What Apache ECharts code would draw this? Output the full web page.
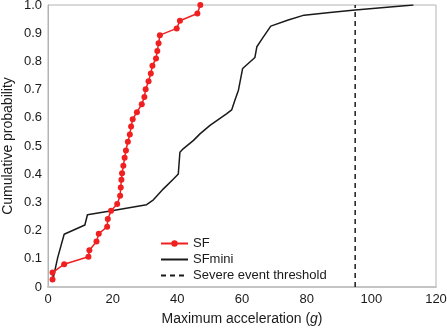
<!DOCTYPE html>
<html>
<head>
<meta charset="utf-8">
<script src="https://cdn.jsdelivr.net/npm/echarts@6/dist/echarts.min.js"></script>
<style>
  html, body { margin: 0; padding: 0; background: #fff; }
  #chart { width: 447px; height: 330px; }
</style>
</head>
<body>
<div id="chart"></div>
<script>
// SF: maximum acceleration (g) per event, sorted, with cumulative probability
const sfAccel = [1.4, 1.4, 5, 12.5, 12.8, 15, 15.7, 18.3, 18.5, 19.5, 21.4, 22.3, 22.5, 22.7, 22.9, 23.3, 23.7, 24.1,
  24.7, 25.3, 25.7, 26.2, 27.5, 29, 29.8, 30.2, 31.1, 31.8, 32.3, 33.4, 33.8, 34.2, 34.6, 39.8, 40.8, 46.2, 47.1];
const sfProb = [0.027, 0.051, 0.081, 0.107, 0.13, 0.161, 0.189, 0.214, 0.241, 0.27, 0.294, 0.324, 0.353, 0.38,
  0.403, 0.43, 0.458, 0.484, 0.515, 0.541, 0.569, 0.595, 0.62, 0.648, 0.674, 0.701, 0.73, 0.757, 0.785, 0.81,
  0.837, 0.864, 0.893, 0.917, 0.944, 0.97, 1.0];

// SFmini curve
const miniAccel = [1.5, 1.6, 3, 5, 11.4, 12.2, 19.7, 30.5, 32.6, 35.7, 38.8, 40.3, 40.8, 41.8, 45, 47, 50.1, 55.3,
  56.8, 57.8, 58.9, 60.2, 64, 64.6, 66.1, 68.9, 74.3, 79.2, 87.2, 95, 113];
const miniProb = [0.02, 0.031, 0.104, 0.187, 0.22, 0.256, 0.27, 0.292, 0.309, 0.348, 0.383, 0.401, 0.478, 0.49,
  0.52, 0.543, 0.573, 0.615, 0.628, 0.662, 0.698, 0.775, 0.814, 0.852, 0.878, 0.925, 0.947, 0.964, 0.973, 0.982, 1.0];

const threshold = 95;
const xTicks = [0, 20, 40, 60, 80, 100, 120];
const yTicks = [0, 0.1, 0.2, 0.3, 0.4, 0.5, 0.6, 0.7, 0.8, 0.9, 1.0];

const font = "'Liberation Sans', Arial, sans-serif";
const ink = "#1a1a1a";
const chart = echarts.init(document.getElementById("chart"));

chart.setOption({
  animation: false,
  textStyle: { fontFamily: font },
  grid: {
    left: 48, right: 11, top: 5, bottom: 43,
    outerBoundsMode: "none",
    containLabel: false,
    show: true, borderColor: "#b3b3b3", borderWidth: 1
  },
  legend: {
    orient: "vertical",
    left: 155, top: 232,
    itemWidth: 27, itemHeight: 8, itemGap: 3,
    textStyle: { fontSize: 13, color: ink, fontFamily: font },
    data: [
      "SF",
      { name: "SFmini", itemStyle: { opacity: 0 } },
      { name: "Severe event threshold", itemStyle: { opacity: 0 } }
    ]
  },
  xAxis: {
    type: "value",
    min: xTicks[0], max: xTicks[xTicks.length - 1], interval: 20,
    name: "Maximum acceleration ({i|g})",
    nameLocation: "middle", nameGap: 25, nameMoveOverlap: false,
    nameTextStyle: { fontSize: 14, color: ink, fontFamily: font,
      rich: { i: { fontStyle: "italic", fontSize: 14, color: ink, fontFamily: font } } },
    axisLine: { show: true, lineStyle: { color: "#c4c4c4", width: 2 } },
    axisTick: { show: false },
    axisLabel: { fontSize: 13, color: ink, margin: 6 },
    splitLine: { show: false }
  },
  yAxis: {
    type: "value",
    min: yTicks[0], max: yTicks[yTicks.length - 1], interval: 0.1,
    name: "Cumulative probability",
    nameLocation: "middle", nameGap: 33, nameMoveOverlap: false,
    nameTextStyle: { fontSize: 14, color: ink, fontFamily: font },
    axisLine: { show: true, lineStyle: { color: "#b3b3b3", width: 1 } },
    axisTick: { show: false },
    axisLabel: { fontSize: 13, color: ink, margin: 6,
      formatter: (v) => (v === 0 ? "0" : v.toFixed(1)) },
    splitLine: { show: false }
  },
  series: [
    {
      name: "SF",
      type: "line",
      data: sfAccel.map((x, i) => [x, sfProb[i]]),
      symbol: "circle", symbolSize: 6,
      lineStyle: { color: "#f02020", width: 1.5 },
      itemStyle: { color: "#f02020" },
      z: 3
    },
    {
      name: "SFmini",
      type: "line",
      data: miniAccel.map((x, i) => [x, miniProb[i]]),
      symbol: "none",
      lineStyle: { color: ink, width: 1.5 },
      itemStyle: { color: ink },
      z: 2
    },
    {
      name: "Severe event threshold",
      type: "line",
      data: [[threshold, 0], [threshold, 1]],
      symbol: "none",
      lineStyle: { color: ink, width: 1.5, type: [5, 4] },
      itemStyle: { color: ink },
      z: 1
    }
  ]
});
</script>
</body>
</html>
